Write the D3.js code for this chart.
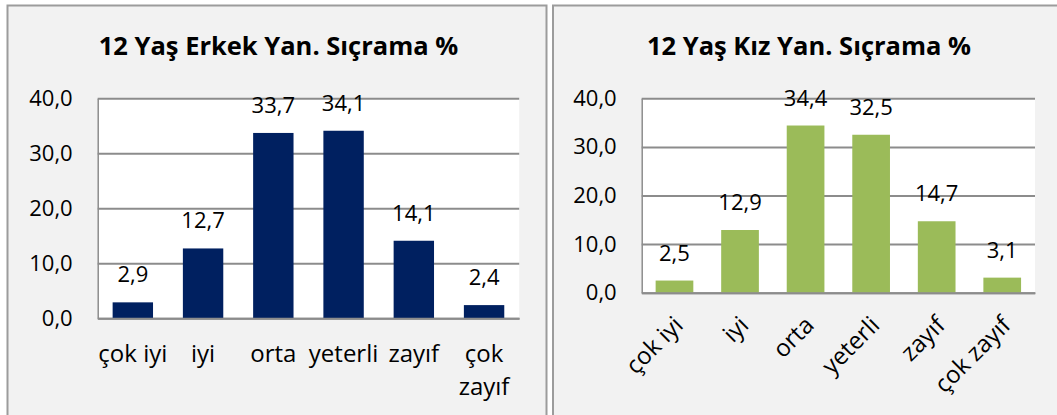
<!DOCTYPE html>
<html>
<head>
<meta charset="utf-8">
<script src="https://cdn.jsdelivr.net/npm/d3@7"></script>
<style>
  body { margin: 0; background: #fff; }
  svg text { font-family: "Open Sans", "Noto Sans", sans-serif; fill: #000; }
</style>
</head>
<body>
<div id="chart"></div>
<script>
var categories = ["çok iyi", "iyi", "orta", "yeterli", "zayıf", "çok zayıf"];
var erkekValues = [2.9, 12.7, 33.7, 34.1, 14.1, 2.4];
var kizValues = [2.5, 12.9, 34.4, 32.5, 14.7, 3.1];
var yTicks = [0, 10, 20, 30, 40];
var titleErkek = "12 Yaş Erkek Yan. Sıçrama %";
var titleKiz = "12 Yaş Kız Yan. Sıçrama %";

var fmt = d3.formatLocale({decimal: ",", thousands: ".", grouping: [3], currency: ["", "₺"]}).format(".1f");

var svg = d3.select("#chart")
	.append("svg")
	.attr("width", 1057)
	.attr("height", 415);

function wrap(text, width, lineHeight) {
	text.each(function() {
		var t = d3.select(this);
		if (this.getComputedTextLength() <= width) return;
		var words = t.text().split(" ");
		var y = t.attr("y"), dy = t.attr("dy");
		t.text(null);
		words.forEach(function(w, i) {
			t.append("tspan")
				.attr("x", 0)
				.attr("y", y)
				.attr("dy", i == 0 ? dy : (parseFloat(dy) + i * lineHeight) + "em")
				.text(w);
		});
	});
}

function drawChart(cfg) {
	var g = svg.append("g");

	// panel
	g.append("rect")
		.attr("x", cfg.panel[0])
		.attr("y", cfg.panel[1])
		.attr("width", cfg.panel[2])
		.attr("height", cfg.panel[3])
		.attr("fill", "#f2f2f2")
		.attr("stroke", "#9c9c9c")
		.attr("stroke-width", 2);

	var x = d3.scaleBand()
		.domain(categories)
		.range([cfg.left, cfg.right])
		.paddingInner(0.425)
		.paddingOuter(0.2125);
	var y = d3.scaleLinear()
		.domain([0, 40])
		.range([cfg.bottom, cfg.top]);

	g.append("rect")
		.attr("x", cfg.left)
		.attr("y", cfg.top)
		.attr("width", cfg.right - cfg.left)
		.attr("height", cfg.bottom - cfg.top)
		.attr("fill", "#fff");

	var yAxis = g.append("g")
		.attr("transform", "translate(" + cfg.left + ",0)")
		.call(d3.axisLeft(y).tickValues(yTicks).tickFormat(fmt)
			.tickSize(-(cfg.right - cfg.left)).tickSizeOuter(0).tickPadding(25));
	yAxis.selectAll(".tick line").attr("stroke", "#8c8c8c").attr("stroke-width", 2);
	yAxis.select(".domain").attr("stroke", "#8c8c8c").attr("stroke-width", 1.5);
	yAxis.selectAll("text").style("font-size", "22px").attr("fill", "#000");

	g.selectAll(".bar")
		.data(cfg.values)
		.enter()
		.append("rect")
		.attr("class", "bar")
		.attr("x", function(d, i) { return x(categories[i]); })
		.attr("y", function(d) { return y(d); })
		.attr("width", x.bandwidth())
		.attr("height", function(d) { return y(0) - y(d); })
		.attr("fill", cfg.color);

	var xAxis = g.append("g")
		.attr("transform", "translate(0," + cfg.bottom + ")")
		.call(d3.axisBottom(x).tickSize(0).tickSizeOuter(0).tickPadding(27));
	xAxis.select(".domain").attr("stroke", "#8c8c8c").attr("stroke-width", 2);
	xAxis.selectAll("text").style("font-size", "24px").attr("fill", "#000");

	if (cfg.rotate) {
		xAxis.selectAll("text")
			.attr("text-anchor", "end")
			.attr("y", 0)
			.attr("dy", "0.35em")
			.attr("transform", "translate(4,28) rotate(-45)");
	} else {
		xAxis.selectAll("text").call(wrap, x.step(), 1.36);
	}

	g.selectAll(".val")
		.data(cfg.values)
		.enter()
		.append("text")
		.attr("class", "val")
		.attr("x", function(d, i) { return x(categories[i]) + x.bandwidth() / 2; })
		.attr("y", function(d) { return y(d) - 20; })
		.attr("text-anchor", "middle")
		.style("font-size", "22px")
		.text(function(d) { return fmt(d); });

	g.append("text")
		.attr("x", cfg.titleX)
		.attr("y", 55)
		.attr("text-anchor", "middle")
		.style("font-size", "25.5px")
		.style("font-weight", "bold")
		.text(cfg.title);
}

drawChart({
	panel: [7.5, 5.5, 539, 430],
	left: 97.7, right: 519.2, top: 98.3, bottom: 318.3,
	values: erkekValues, color: "#002060",
	title: titleErkek, titleX: 278.5, rotate: false
});

drawChart({
	panel: [553, 5.5, 530, 430],
	left: 641.7, right: 1035, top: 98.3, bottom: 292.7,
	values: kizValues, color: "#9bbb59",
	title: titleKiz, titleX: 809, rotate: true
});
</script>
</body>
</html>
